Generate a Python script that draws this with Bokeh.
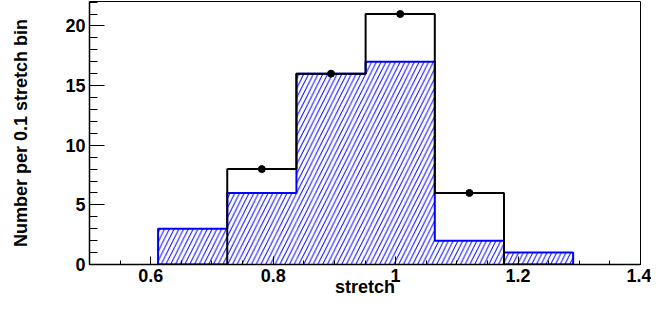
from bokeh.plotting import figure
from bokeh.models import FixedTicker, Range1d
from bokeh.embed import file_html
from bokeh.resources import INLINE

# ---- data ----
bin_edges = [0.612, 0.725, 0.838, 0.951, 1.064, 1.177, 1.290]
blue_counts = [3, 6, 16, 17, 2, 1]
black_counts = [0, 8, 16, 21, 6, 0]
x_ticks = [0.6, 0.8, 1.0, 1.2, 1.4]
x_tick_labels = ["0.6", "0.8", "1", "1.2", "1.4"]
y_ticks = [0, 5, 10, 15, 20]
y_tick_labels = ["0", "5", "10", "15", "20"]
x_title = "stretch"
y_title = "Number per 0.1 stretch bin"

FONT = "Liberation Sans"
BLUE = "#0000ff"


def step_outline(edges, counts):
    xs, ys = [edges[0]], [0]
    for i, c in enumerate(counts):
        xs += [edges[i], edges[i + 1]]
        ys += [c, c]
    xs.append(edges[-1])
    ys.append(0)
    return xs, ys


p = figure(width=651, height=300,
           x_range=Range1d(0.5, 1.4), y_range=Range1d(0, 22.05),
           output_backend="svg", toolbar_location=None,
           min_border_left=89, min_border_right=11,
           min_border_top=1, min_border_bottom=36)
p.grid.visible = False
p.outline_line_color = "black"
p.outline_line_width = 1
p.background_fill_color = "white"
p.border_fill_color = "white"

# blue hatched histogram
p.quad(left=bin_edges[:-1], right=bin_edges[1:], bottom=0, top=blue_counts,
       fill_color=None, line_color=None,
       hatch_pattern="/", hatch_color=BLUE, hatch_scale=9.5, hatch_weight=1)
bx, by = step_outline(bin_edges, blue_counts)
p.line(bx, by, line_color=BLUE, line_width=2)

# black histogram with points
kx, ky = step_outline(bin_edges, black_counts)
p.line(kx, ky, line_color="black", line_width=2)
cx = [(bin_edges[i] + bin_edges[i + 1]) / 2 for i, c in enumerate(black_counts) if c > 0]
cy = [c for c in black_counts if c > 0]
p.scatter(cx, cy, size=7, color="black")

# axes
x_minor = [round(0.5 + 0.05 * i, 2) for i in range(19)]
y_minor = list(range(0, 23))
p.xaxis.ticker = FixedTicker(ticks=x_ticks, minor_ticks=x_minor)
p.yaxis.ticker = FixedTicker(ticks=y_ticks, minor_ticks=y_minor)
p.xaxis.major_label_overrides = dict(zip(x_ticks, x_tick_labels))
p.yaxis.major_label_overrides = dict(zip(y_ticks, y_tick_labels))

for ax in (p.xaxis[0], p.yaxis[0]):
    ax.axis_line_color = "black"
    ax.axis_line_width = 1.5
    ax.major_tick_line_color = "black"
    ax.minor_tick_line_color = "black"
    ax.major_tick_out = 0
    ax.minor_tick_out = 0
    ax.major_label_text_font = FONT
    ax.major_label_text_font_style = "bold"
    ax.major_label_text_font_size = "18px"
    ax.major_label_text_color = "black"
    ax.axis_label_text_font = FONT
    ax.axis_label_text_font_style = "bold"
    ax.axis_label_text_font_size = "18px"
    ax.axis_label_text_color = "black"

p.xaxis.major_tick_in = 8
p.xaxis.minor_tick_in = 4
p.xaxis.major_label_standoff = 4
p.xaxis.axis_label = x_title
p.xaxis.axis_label_standoff = -8

p.yaxis.major_tick_in = 15
p.yaxis.minor_tick_in = 8
p.yaxis.major_label_standoff = 4
p.yaxis.axis_label = y_title
p.yaxis.axis_label_standoff = 31

open("out.html", "w").write(file_html(p, INLINE))
